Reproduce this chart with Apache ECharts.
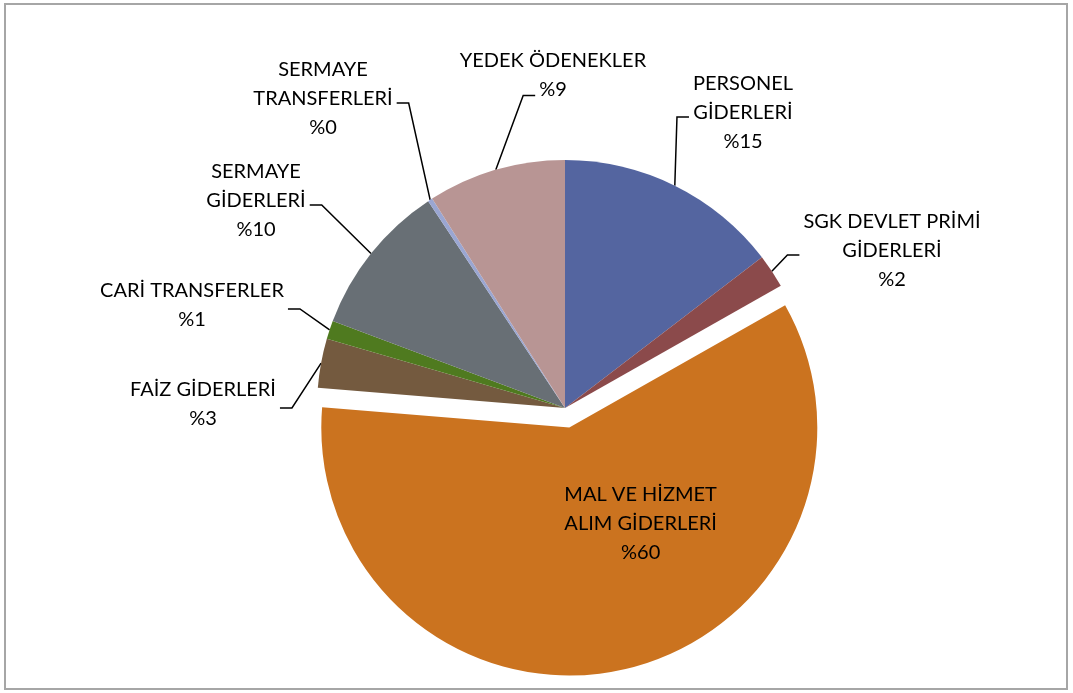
<!DOCTYPE html>
<html>
<head>
<meta charset="utf-8">
<script src="https://cdn.jsdelivr.net/npm/echarts@6/dist/echarts.min.js"></script>
<style>
  html, body { margin: 0; padding: 0; background: #fff; }
  .frame {
    position: absolute; left: 4px; top: 3px; width: 1064px; height: 687px;
    border: 2px solid #a6a6a6; box-sizing: border-box;
  }
  #myChart { position: absolute; left: 0; top: 0; width: 1073px; height: 693px; }
</style>
</head>
<body>
<div class="frame"></div>
<div id="myChart"></div>
<script>
  // kategoriler ve oranlar (yüzde)
  let categories = ['PERSONEL\nGİDERLERİ', 'SGK DEVLET PRİMİ\nGİDERLERİ', 'MAL VE HİZMET\nALIM GİDERLERİ',
    'FAİZ GİDERLERİ', 'CARİ TRANSFERLER', 'SERMAYE\nGİDERLERİ', 'SERMAYE\nTRANSFERLERİ', 'YEDEK ÖDENEKLER'];
  let values = [14.6, 2.2, 59.5, 3.2, 1.2, 10.0, 0.3, 9.0];
  let colors = ['#5465a0', '#8b4a4b', '#cb731f', '#745a3f', '#4f7a1f', '#686f75', '#9aa6d2', '#b89594'];

  // dış etiket merkezleri (piksel)
  let labelPos = [[743, 113], [892, 251], null, [203, 404], [192, 305], [256, 201], [323, 99], [553, 75]];

  let fontSize = 20;
  let lineH = 29;
  let ctx = document.createElement('canvas').getContext('2d');
  ctx.font = fontSize + 'px Lato';

  function labelText(i) {
    return categories[i] + '\n%' + Math.round(values[i]);
  }

  let seriesData = categories.map(function(name, i) {
    let item = {
      name: name,
      value: values[i],
      itemStyle: { color: colors[i] }
    };
    if (i === 2) {
      // ayrık dilim, etiketi içeride
      item.selected = true;
      item.label = { position: 'inside' };
      item.labelLine = { show: false };
    }
    return item;
  });

  let myChart = echarts.init(document.getElementById('myChart'));
  let option = {
    backgroundColor: 'transparent',
    animation: false,
    series: [{
      type: 'pie',
      center: [565, 408],
      radius: 248,
      startAngle: 90,
      clockwise: true,
      selectedMode: 'single',
      selectedOffset: 20,
      avoidLabelOverlap: false,
      itemStyle: {
        borderWidth: 0
      },
      label: {
        show: true,
        position: 'outside',
        color: '#000',
        fontFamily: 'Lato',
        fontSize: fontSize,
        lineHeight: lineH,
        align: 'center',
        formatter: function(p) {
          return labelText(p.dataIndex);
        }
      },
      labelLine: {
        show: true,
        length: 20,
        length2: 12,
        lineStyle: { color: '#000', width: 1.5 }
      },
      labelLayout: function(params) {
        let i = params.dataIndex;
        let pos = labelPos[i];
        if (!pos) {
          // içteki etiketi biraz sağa-yukarı kaydır
          return { dx: 44, dy: -28 };
        }
        let res = {
          x: pos[0],
          y: pos[1],
          align: 'center',
          verticalAlign: 'middle'
        };
        let pts = params.labelLinePoints;
        if (pts) {
          // kılavuz çizgi: dilim kenarından etiketin yanına, kısa yatay parça ile
          let anchor = pts[0];
          let lines = labelText(i).split('\n');
          let widths = lines.map(function(s) { return ctx.measureText(s).width; });
          let maxW = Math.max.apply(null, widths);
          let top = pos[1] - lines.length * lineH / 2;
          let ex, ey, dir;
          dir = anchor[0] < pos[0] ? -1 : 1;
          if (anchor[0] > pos[0] - maxW / 2 && anchor[0] < pos[0] + maxW / 2) {
            // etiket dilimin tam üstünde: son satırın yanına bağla
            let k = lines.length - 1;
            ex = pos[0] + dir * (widths[k] / 2 + 4);
            ey = top + lineH * (k + 0.5) + 6;
          } else {
            ex = pos[0] + dir * (maxW / 2 + 4);
            ey = pos[1] + 4;
          }
          res.labelLinePoints = [anchor, [ex + dir * 12, ey], [ex, ey]];
        }
        return res;
      },
      emphasis: { disabled: true },
      data: seriesData
    }]
  };
  myChart.setOption(option);
</script>
</body>
</html>
